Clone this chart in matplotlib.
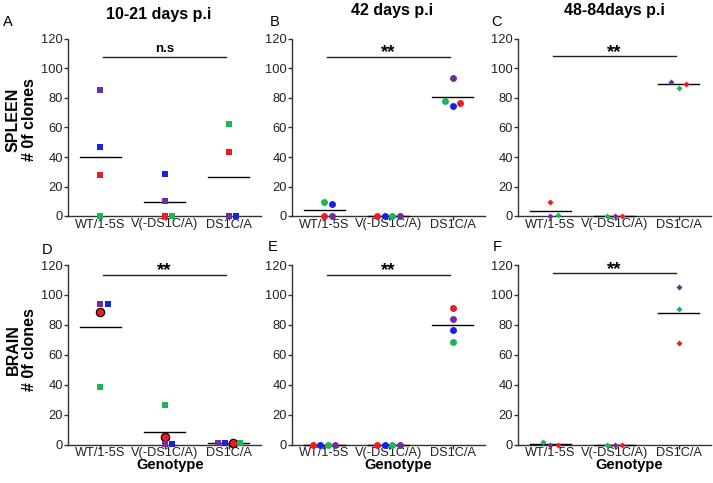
import numpy as np
import matplotlib.pyplot as plt

plt.rcParams['font.family'] = ['Liberation Sans', 'DejaVu Sans']

genotypes = ['WT/1-5S', 'V(-DS1C/A)', 'DS1C/A']
mouse_colors = {'P': '#6f3198', 'B': '#1522e6', 'R': '#ec1c24', 'G': '#1fb35a'}

# number of clones per mouse, one list per genotype; letters give the mouse colour
spleen_early = [[85.5, 46.5, 27.5, 0], [28.5, 10.2, 0, 0], [62.5, 43.5, 0, 0]]
spleen_early_mice = [['P', 'B', 'R', 'G'], ['B', 'P', 'R', 'G'], ['G', 'R', 'P', 'B']]
spleen_mid = [[9.5, 8, 0, 0], [0, 0, 0, 0], [93.5, 77.7, 74.5, 76.8]]
spleen_mid_mice = [['G', 'B', 'R', 'P'], ['R', 'B', 'G', 'P'], ['P', 'G', 'B', 'R']]
spleen_late = [[0, 1, 9.8], [0, 0, 0], [91, 86.8, 89.8]]
spleen_late_mice = [['P', 'G', 'R'], ['G', 'P', 'R'], ['P', 'G', 'R']]
brain_early = [[93.7, 93.7, 88.8, 38.6], [26.3, 5, 0.5, 0.5], [1, 1, 1, 1]]
brain_early_mice = [['P', 'B', 'R', 'G'], ['G', 'R', 'P', 'B'], ['P', 'B', 'R', 'G']]
brain_mid = [[0, 0, 0, 0], [0, 0, 0, 0], [91.5, 83.6, 76.4, 68.6]]
brain_mid_mice = [['R', 'B', 'G', 'P'], ['R', 'B', 'G', 'P'], ['R', 'P', 'B', 'G']]
brain_late = [[1.5, 0, 0], [0, 0, 0], [105.6, 90.9, 68.1]]
brain_late_mice = [['G', 'P', 'R'], ['G', 'P', 'R'], ['P', 'G', 'R']]

significance = ['n.s', '**', '**', '**', '**', '**']

W, H = 713, 483
fig = plt.figure(figsize=(W / 100, H / 100), dpi=100)


def px(x, y):
    return x / W, 1 - y / H


def spread(values, tol=3.5, step=0.115):
    # push overlapping points sideways, keeping the listed order
    values = np.asarray(values, float)
    order = np.argsort(values, kind='stable')
    groups, cur = [], [order[0]]
    for i in order[1:]:
        if values[i] - values[cur[-1]] < tol:
            cur.append(i)
        else:
            groups.append(cur)
            cur = [i]
    groups.append(cur)
    offs = np.zeros(len(values))
    for g in groups:
        g = sorted(g)
        n = len(g)
        base = np.arange(n) - (n - 1) / 2
        if n == 2:
            base += 0.5
        offs[g] = base * step
    return offs


def panel(rect, data, mice, marker, ms, sig, sig_y, circled=False):
    ax = fig.add_axes(rect)
    for k, (vals, who) in enumerate(zip(data, mice)):
        offs = spread(vals)
        for v, o, m in zip(vals, offs, who):
            if circled and m == 'R':
                ax.plot(k + o, v, 'o', ms=6, mfc=mouse_colors[m], mec='black',
                        mew=0.9, clip_on=False, zorder=4)
            else:
                ax.plot(k + o, v, marker, ms=ms, color=mouse_colors[m], mew=0,
                        clip_on=False, zorder=4)
        mean = np.mean(vals)
        ax.plot([k - 0.32, k + 0.32], [mean, mean], color='black', lw=1,
                clip_on=False, zorder=3)
    ax.plot([0.05, 1.95], [sig_y, sig_y], color='#222222', lw=1, clip_on=False)
    if sig == 'n.s':
        ax.text(1, sig_y + 3, sig, ha='center', va='baseline', fontsize=9.5,
                fontweight='bold')
    else:
        ax.text(1, sig_y - 0.5, sig, ha='center', va='baseline', fontsize=13.5,
                fontweight='bold')
    ax.set_xlim(-0.5, 2.5)
    ax.set_ylim(0, 120)
    ax.set_yticks(range(0, 121, 20))
    ax.set_xticks(range(3))
    ax.set_xticklabels(genotypes)
    for s in ['top', 'right']:
        ax.spines[s].set_visible(False)
    for s in ['left', 'bottom']:
        ax.spines[s].set_color('#333333')
        ax.spines[s].set_linewidth(1)
    ax.tick_params(axis='y', length=3, width=1, pad=0.5, labelsize=9.3,
                   colors='#333333', labelcolor='#222222')
    ax.tick_params(axis='x', length=3, width=1, pad=-1.2, labelsize=9.2,
                   colors='#333333', labelcolor='#222222')
    return ax


aw = 193 / W
top_b, top_h = 1 - 216 / H, 177 / H
bot_b, bot_h = 1 - 444.5 / H, 179.5 / H
lefts = [68 / W, 292 / W, 518 / W]

panel([lefts[0], top_b, aw, top_h], spleen_early, spleen_early_mice, 's', 4.2, significance[0], 108)
panel([lefts[1], top_b, aw, top_h], spleen_mid, spleen_mid_mice, 'o', 5, significance[1], 108)
panel([lefts[2], top_b, aw, top_h], spleen_late, spleen_late_mice, 'D', 3.1, significance[2], 108.5)
panel([lefts[0], bot_b, aw, bot_h], brain_early, brain_early_mice, 's', 4.2, significance[3], 113.5, circled=True)
panel([lefts[1], bot_b, aw, bot_h], brain_mid, brain_mid_mice, 'o', 5, significance[4], 113.5)
panel([lefts[2], bot_b, aw, bot_h], brain_late, brain_late_mice, 'D', 3.1, significance[5], 114.5)

# column titles
for (x, y), t in zip([(159, 15), (392.5, 10), (614, 11)],
                     ['10-21 days p.i', '42 days p.i', '48-84days p.i']):
    fig.text(*px(x, y), t, ha='center', va='center', fontsize=11.5, fontweight='bold')

# panel letters
for (x, y), t in zip([(8, 22), (275, 22), (497, 22), (47, 250), (273, 247), (497, 247)],
                     'ABCDEF'):
    fig.text(*px(x, y), t, ha='center', va='center', fontsize=10.5)

# row labels
for y, organ in [(120, 'SPLEEN'), (350, 'BRAIN')]:
    fig.text(*px(13, y), organ, rotation=90, ha='center', va='center',
             fontsize=11.5, fontweight='bold')
    fig.text(*px(29, y), '# 0f clones', rotation=90, ha='center', va='center',
             fontsize=11.5, fontweight='bold')

for x in [170, 398, 629]:
    fig.text(*px(x, 469), 'Genotype', ha='center', va='baseline', fontsize=10.5,
             fontweight='bold')

fig.savefig('out.png', dpi=100)
